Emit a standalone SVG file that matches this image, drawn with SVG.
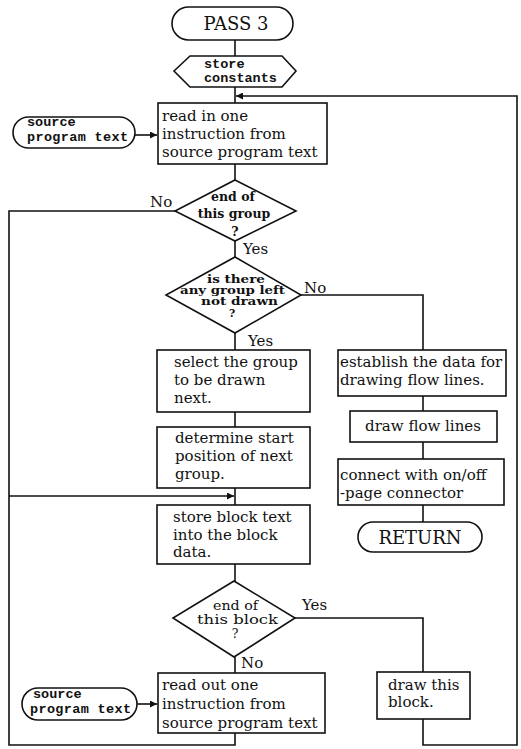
<svg xmlns="http://www.w3.org/2000/svg" width="521" height="749" viewBox="0 0 521 749">
<style>
.s{fill:#fff;stroke:#111;stroke-width:1.6}
.c{fill:none;stroke:#111;stroke-width:1.6}
.t{font-family:"DejaVu Serif","Liberation Serif",serif;font-size:15px;fill:#111}
.d{font-family:"DejaVu Serif","Liberation Serif",serif;font-size:12.5px;font-weight:bold;fill:#111}
.d2{font-family:"DejaVu Serif","Liberation Serif",serif;font-size:10.5px;font-weight:bold;fill:#111}
.d3{font-family:"DejaVu Serif","Liberation Serif",serif;font-size:12.5px;fill:#111}
.m{font-family:"Liberation Mono","DejaVu Sans Mono",monospace;font-size:13.5px;font-weight:bold;fill:#111}
.big{font-family:"DejaVu Serif","Liberation Serif",serif;font-size:18px;fill:#111}
.mid{text-anchor:middle}
</style>
<defs>
<marker id="ah" viewBox="0 0 10 10" refX="10" refY="5" markerWidth="9" markerHeight="7" markerUnits="userSpaceOnUse" orient="auto">
<path d="M0,0 L10,5 L0,10 z" fill="#111"/>
</marker>
</defs>
<rect width="521" height="749" fill="#fff"/>
<g id="connectors">
<path class="c" d="M235,40 V56"/>
<path class="c" d="M235,87 V103"/>
<path class="c" d="M423,719 V745 H517 V96 H236" marker-end="url(#ah)"/>
<path class="c" d="M135,135 H157" marker-end="url(#ah)"/>
<path class="c" d="M235,164 V180"/>
<path class="c" d="M175,211 H9 V745 H235 V733"/>
<path class="c" d="M9,496 H234" marker-end="url(#ah)"/>
<path class="c" d="M235,241 V257"/>
<path class="c" d="M301,295 H423 V350"/>
<path class="c" d="M235,333 V350"/>
<path class="c" d="M235,412 V427"/>
<path class="c" d="M235,488 V505"/>
<path class="c" d="M235,564 V581"/>
<path class="c" d="M295,618 H423 V672"/>
<path class="c" d="M235,657 V673"/>
<path class="c" d="M137,704 H157" marker-end="url(#ah)"/>
<path class="c" d="M423,396 V411"/>
<path class="c" d="M423,442 V459"/>
<path class="c" d="M423,505 V522"/>
<text class="t" x="150" y="207">No</text>
<text class="t" x="243" y="254">Yes</text>
<text class="t" x="304" y="293">No</text>
<text class="t" x="248" y="346">Yes</text>
<text class="t" x="302" y="610">Yes</text>
<text class="t" x="241" y="668">No</text>
</g>
<g id="pass3">
<rect class="s" x="172" y="7" width="121" height="33" rx="16.5"/>
<text class="big mid" x="236" y="30">PASS 3</text>
</g>
<g id="store-constants">
<polygon class="s" points="174,71 190,56 282,56 296,71 282,87 190,87"/>
<text class="m" x="204" y="68">store</text>
<text class="m" x="204" y="82">constants</text>
</g>
<g id="source1">
<rect class="s" x="13" y="117" width="122" height="31" rx="15.5"/>
<text class="m" x="27" y="126">source</text>
<text class="m" x="27" y="141" textLength="101">program text</text>
</g>
<g id="read-in">
<rect class="s" x="158" y="103" width="169" height="61"/>
<text class="t" x="162" y="121">read in one</text>
<text class="t" x="162" y="139">instruction from</text>
<text class="t" x="162" y="157">source program text</text>
</g>
<g id="end-group">
<polygon class="s" points="235,180 296,211 235,241 175,211"/>
<text class="d mid" x="233" y="201">end of</text>
<text class="d mid" x="234" y="218">this group</text>
<text class="d mid" x="235" y="236">?</text>
</g>
<g id="group-left">
<polygon class="s" points="235,257 301,295 235,333 166,295"/>
<text class="d2" x="207" y="283" textLength="58" lengthAdjust="spacingAndGlyphs">is there</text>
<text class="d2" x="180" y="294" textLength="105" lengthAdjust="spacingAndGlyphs">any group left</text>
<text class="d2" x="201" y="305" textLength="77" lengthAdjust="spacingAndGlyphs">not drawn</text>
<text class="d2 mid" x="232" y="317">?</text>
</g>
<g id="select">
<rect class="s" x="157" y="350" width="153" height="62"/>
<text class="t" x="174" y="367">select the group</text>
<text class="t" x="174" y="385">to be drawn</text>
<text class="t" x="174" y="403">next.</text>
</g>
<g id="determine">
<rect class="s" x="157" y="427" width="153" height="61"/>
<text class="t" x="175" y="443">determine start</text>
<text class="t" x="175" y="461">position of next</text>
<text class="t" x="175" y="479">group.</text>
</g>
<g id="store-block">
<rect class="s" x="157" y="505" width="153" height="59"/>
<text class="t" x="173" y="522">store block text</text>
<text class="t" x="173" y="540">into the block</text>
<text class="t" x="173" y="557">data.</text>
</g>
<g id="end-block">
<polygon class="s" points="234,581 295,618 234,657 173,618"/>
<text class="d3" x="213" y="610" textLength="45" lengthAdjust="spacingAndGlyphs">end of</text>
<text class="d3" x="197" y="624" textLength="81" lengthAdjust="spacingAndGlyphs">this block</text>
<text class="d3 mid" x="235" y="638">?</text>
</g>
<g id="source2">
<rect class="s" x="22" y="688" width="115" height="32" rx="16"/>
<text class="m" x="33" y="698">source</text>
<text class="m" x="30" y="713" textLength="101">program text</text>
</g>
<g id="read-out">
<rect class="s" x="158" y="673" width="167" height="60"/>
<text class="t" x="162" y="690">read out one</text>
<text class="t" x="162" y="709">instruction  from</text>
<text class="t" x="162" y="728">source program text</text>
</g>
<g id="establish">
<rect class="s" x="338" y="350" width="168" height="46"/>
<text class="t" x="340" y="367">establish the data for</text>
<text class="t" x="340" y="385">drawing flow lines.</text>
</g>
<g id="draw-flow">
<rect class="s" x="350" y="411" width="147" height="31"/>
<text class="t mid" x="423" y="431">draw flow lines</text>
</g>
<g id="connect">
<rect class="s" x="338" y="459" width="166" height="46"/>
<text class="t" x="340" y="480">connect with on/off</text>
<text class="t" x="340" y="498">-page  connector</text>
</g>
<g id="return">
<rect class="s" x="358" y="522" width="124" height="30" rx="15"/>
<text class="big mid" x="420" y="544">RETURN</text>
</g>
<g id="draw-block">
<rect class="s" x="377" y="672" width="93" height="47"/>
<text class="t" x="388" y="690">draw this</text>
<text class="t" x="388" y="707">block.</text>
</g>
</svg>
